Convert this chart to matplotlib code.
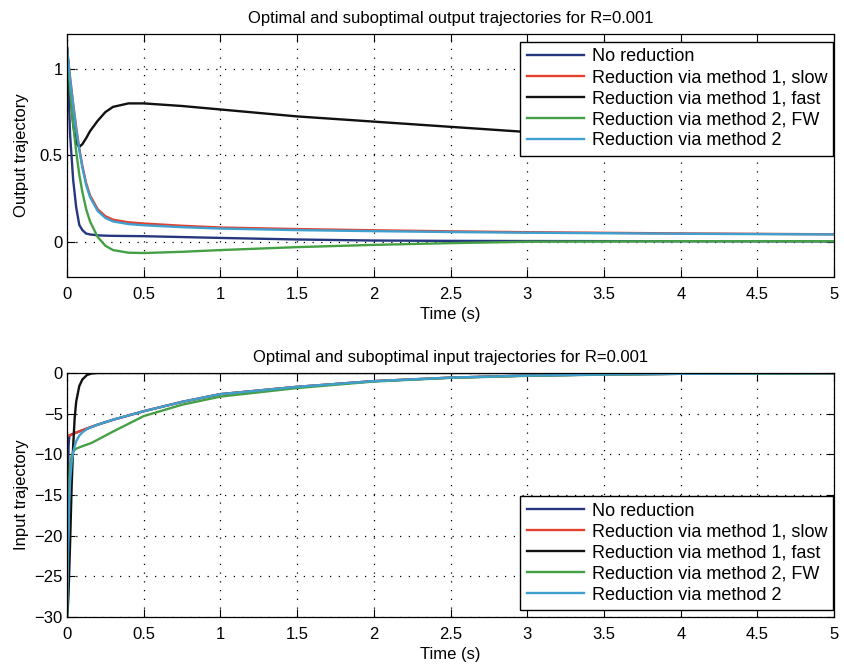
import matplotlib
matplotlib.use("Agg")
import matplotlib.pyplot as plt

plt.rcParams['font.family'] = ['Liberation Sans', 'DejaVu Sans']
plt.rcParams['font.size'] = 12

# --- output trajectories (top) ---
t_out = [0, 0.02, 0.04, 0.06, 0.08, 0.1, 0.125, 0.15, 0.2, 0.25, 0.3, 0.4, 0.5,
         0.75, 1, 1.5, 2, 2.5, 3, 4, 5]
y_nored = [1.12, 0.62, 0.36, 0.2, 0.1, 0.07, 0.05, 0.045, 0.04, 0.038, 0.037, 0.036,
           0.035, 0.03, 0.025, 0.016, 0.01, 0.008, 0.007, 0.006, 0.005]
y_m1slow = [1.12, 0.95, 0.8, 0.66, 0.54, 0.44, 0.34, 0.27, 0.19, 0.15, 0.13, 0.115,
            0.108, 0.095, 0.085, 0.076, 0.069, 0.063, 0.058, 0.051, 0.046]
y_m1fast = [1.12, 0.88, 0.68, 0.57, 0.55, 0.565, 0.6, 0.64, 0.7, 0.75, 0.78, 0.8,
            0.8, 0.785, 0.765, 0.725, 0.695, 0.665, 0.635, 0.57, 0.505]
y_m2fw = [1.12, 0.88, 0.68, 0.52, 0.39, 0.29, 0.19, 0.12, 0.03, -0.02, -0.045, -0.06,
          -0.062, -0.055, -0.045, -0.028, -0.015, -0.005, 0.003, 0.006, 0.006]
y_m2 = [1.12, 0.94, 0.79, 0.65, 0.53, 0.43, 0.33, 0.26, 0.18, 0.14, 0.12, 0.105,
        0.098, 0.087, 0.079, 0.07, 0.064, 0.059, 0.055, 0.049, 0.045]

# --- input trajectories (bottom) ---
t_in = [0, 0.005, 0.01, 0.015, 0.02, 0.03, 0.04, 0.05, 0.06, 0.08, 0.1, 0.13, 0.16,
        0.2, 0.3, 0.5, 0.75, 1, 1.5, 2, 2.5, 3, 3.5, 4, 5]
u_nored = [-30, -16, -9, -7.7, -7.64, -7.56, -7.48, -7.4, -7.33, -7.18, -7.05, -6.83,
           -6.62, -6.35, -5.75, -4.7, -3.55, -2.6, -1.7, -1.0, -0.57, -0.32, -0.18, -0.1, -0.02]
u_m1slow = [-7.8, -7.76, -7.72, -7.68, -7.64, -7.56, -7.48, -7.4, -7.33, -7.18, -7.05,
            -6.83, -6.62, -6.35, -5.75, -4.7, -3.55, -2.6, -1.7, -1.0, -0.57, -0.32,
            -0.18, -0.1, -0.02]
u_m1fast = [-30, -29, -27, -24, -21, -14, -9, -5.5, -3.5, -1.6, -0.8, -0.25, -0.06,
            0, 0, 0, 0, 0, 0, 0, 0, 0, 0, 0, 0]
u_m2fw = [-30, -22, -16, -13, -11.5, -10.2, -9.7, -9.45, -9.3, -9.15, -9.0, -8.8, -8.6,
          -8.2, -7.2, -5.3, -3.9, -2.9, -1.85, -1.05, -0.6, -0.35, -0.2, -0.1, -0.02]
u_m2 = [-30, -24, -19, -15.5, -13.3, -11.0, -9.8, -9.0, -8.4, -7.7, -7.3, -6.9, -6.66,
        -6.35, -5.75, -4.7, -3.55, -2.6, -1.7, -1.0, -0.57, -0.32, -0.18, -0.1, -0.02]

labels = ['No reduction', 'Reduction via method 1, slow', 'Reduction via method 1, fast',
          'Reduction via method 2, FW', 'Reduction via method 2']
colors = ['#26377f', '#e4402f', '#111111', '#45a045', '#3f9fcf']

fig = plt.figure(figsize=(8.44, 6.7), dpi=100)
ax1 = fig.add_axes([0.0794, 0.5866, 0.909, 0.3627])
ax2 = fig.add_axes([0.0794, 0.0791, 0.909, 0.3642])


def style(ax):
    ax.set_xlim(0, 5)
    ax.set_xticks([0, 0.5, 1, 1.5, 2, 2.5, 3, 3.5, 4, 4.5, 5])
    ax.set_xticklabels(['0', '0.5', '1', '1.5', '2', '2.5', '3', '3.5', '4', '4.5', '5'])
    ax.tick_params(direction='in', top=True, right=True, length=6, width=0.8, pad=3)
    ax.tick_params(axis='x', pad=7)
    ax.grid(True, linestyle=(0, (1, 6)), color='black', linewidth=0.9)
    for s in ax.spines.values():
        s.set_linewidth(0.9)
    ax.set_xlabel('Time (s)', labelpad=4)
    ax.yaxis.set_label_coords(-0.05, 0.5)


def legend(ax, loc, anchor):
    ax.legend(loc=loc, bbox_to_anchor=anchor, handlelength=3.2, fancybox=False,
              edgecolor='black', framealpha=1, borderaxespad=0, labelspacing=0.22,
              handletextpad=0.4, borderpad=0.35, fontsize=13)


for y, c, l in zip([y_nored, y_m1slow, y_m1fast, y_m2fw, y_m2], colors, labels):
    ax1.plot(t_out, y, color=c, lw=1.7, label=l)
style(ax1)
ax1.set_ylim(-0.2, 1.2)
ax1.set_yticks([0, 0.5, 1])
ax1.set_yticklabels(['0', '0.5', '1'])
ax1.set_ylabel('Output trajectory')
ax1.set_title('Optimal and suboptimal output trajectories for R=0.001', fontsize=12, pad=8)
legend(ax1, 'upper right', (0.999, 0.967))

for u, c, l in zip([u_nored, u_m1slow, u_m1fast, u_m2fw, u_m2], colors, labels):
    ax2.plot(t_in, u, color=c, lw=1.7, label=l)
style(ax2)
ax2.set_ylim(-30, 0)
ax2.set_yticks([-30, -25, -20, -15, -10, -5, 0])
ax2.set_ylabel('Input trajectory')
ax2.set_title('Optimal and suboptimal input trajectories for R=0.001', fontsize=12, pad=8)
legend(ax2, 'lower right', (0.999, 0.029))

fig.savefig('out.png', dpi=100)
